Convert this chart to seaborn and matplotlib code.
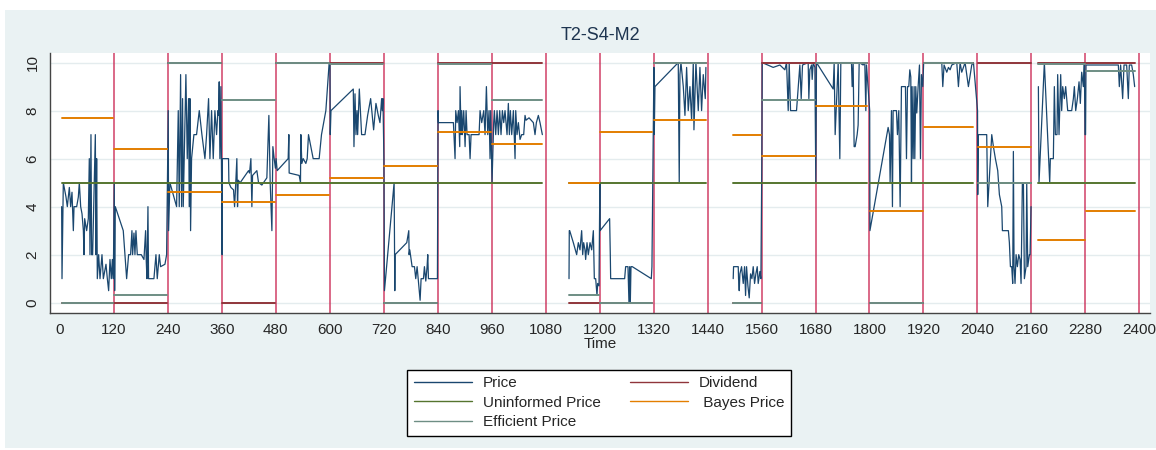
import numpy as np
import pandas as pd
import matplotlib
matplotlib.use("Agg")
import matplotlib.pyplot as plt
from matplotlib.lines import Line2D
from matplotlib.patches import Rectangle
import seaborn as sns

# one entry per 120-step period
period_start = [0, 120, 240, 360, 480, 600, 720, 840, 960, 1080,
                1200, 1320, 1440, 1560, 1680, 1800, 1920, 2040, 2160, 2280]
segment = [0, 0, 0, 0, 0, 0, 0, 0, 0, 1, 1, 1, 2, 2, 2, 2, 2, 2, 3, 3]
dividend = [0, 0, 10, 0, 10, 10, 0, 10, 10, 0, 0, 10, 0, 10, 10, 0, 10, 10, 10, 10]
uninformed = [5] * 20
bayes = [7.7, 6.4, 4.6, 4.2, 4.5, 5.2, 5.7, 7.1, 6.6, 5.0,
         7.1, 7.6, 7.0, 6.1, 8.2, 3.8, 7.3, 6.5, 2.6, 3.8]
efficient = [0, 0.33, 10, 8.44, 10, 9.93, 0, 9.93, 8.44, 0.33,
             0, 10, 0, 8.44, 10, 0, 10, 5, 9.93, 9.67]

# price: time offset inside each period, and value
price_offsets = [
    [3.7, 4.5, 7.4, 13.4, 16.3, 20.8, 23.7, 26.7, 29.7, 31.2, 37.1, 40.8, 43, 46, 49, 52, 53.4, 54.9, 59.3, 63,
     65.2, 66.7, 68.9, 70.4, 72.6, 78.6, 80.1, 81.5, 83, 86, 89, 93.4, 96.4, 102.3, 105.3, 108.2, 111.2, 114.1, 116.4, 118.6],
    [0.7, 1.5, 3, 20.7, 28.2, 32.6, 37, 40, 41.5, 44.5, 46.7, 48.9, 51.9, 60.8, 66.7, 70.4, 71.9, 73.4, 75.6, 77,
     88.9, 93.4, 96.3, 100.8, 103.7, 113.4, 117.1],
    [0.7, 1.5, 4.4, 19.3, 23, 25.2, 28.2, 30.4, 32.6, 34.1, 40, 43, 45.9, 47.4, 48.9, 50.4, 52.6, 57.8, 63.7, 69.7,
     75.6, 82.3, 86, 90.4, 93.4, 97.1, 100.8, 104.5, 108.2, 111.2, 112.6, 114.1, 115.6, 117.8],
    [0.5, 1, 14.8, 15.6, 20, 25.9, 28.2, 30.4, 33.3, 34.8, 36.3, 40.8, 59.3, 61.5, 64.5, 66.7, 68.2, 77.8, 81.5, 88.9,
     100, 104.5, 107.4, 111.2, 113.4, 116.3, 119],
    [0.5, 3, 27.4, 28.9, 29.6, 51.9, 54.8, 55.6, 57.8, 60.8, 66.7, 69.7, 72.6, 83, 96.3, 101.5, 111.2, 118.6],
    [0.4, 1, 2.6, 52.2, 53.7, 56, 58.2, 60.4, 61.9, 65.6, 70.7, 78.2, 84.1, 90.8, 97.4, 102.6, 107.8, 111.5, 115.2,
     116.7, 118.2],
    [0.3, 1.5, 23, 24.5, 25.2, 51.1, 55.6, 56.3, 57.8, 60.8, 63, 65.9, 68.2, 71.1, 74.1, 80.8, 83, 88.2, 90.4, 93.4,
     96.3, 97.8, 99.3, 119.3],
    [0.7, 1.5, 34.8, 38.5, 40, 43, 46, 48.9, 49.6, 51.9, 53.4, 54.8, 57.8, 60.8, 63, 65.2, 69.7, 71.9, 74.1, 91.9,
     94.1, 97.8, 102.3, 105.2, 108.2, 111.2, 114.1, 116.3, 117.8],
    [0.7, 4.4, 5.9, 8.9, 11.9, 14.8, 17.8, 20.7, 23.7, 26.7, 29.6, 34.1, 37, 39.3, 41.5, 44.5, 48.2, 51.9, 53.4, 56.3,
     59.3, 63, 66.7, 71.1, 74.1, 76.3, 83, 92.6, 96.3, 99.3, 103.7, 107.4, 112.6],
    [51.9, 52.5, 53.4, 61.5, 68.9, 72.6, 76.3, 80, 82.3, 84.5, 87.4, 88.9, 91.9, 94.8, 98.6, 102.3, 106, 108.2, 111.2,
     114.1, 115.6, 118.6],
    [0.5, 1, 22.2, 23.7, 24.5, 55.6, 57.8, 63, 65.2, 66.7, 68.2, 69.7, 72.6, 114.9, 116.3],
    [0.7, 1.5, 3, 54.8, 57, 58.5, 60.8, 66, 69.7, 73.4, 77, 80.8, 84.5, 88.2, 89.7, 94.1, 99.3, 103, 106.7, 110.4,
     114.9, 116.3],
    [57, 57.8, 68.2, 68.9, 70.4, 71.9, 75.6, 79.3, 82.3, 84.5, 86.7, 89.7, 92.6, 95.6, 98.6, 101.5, 104.5, 107.4,
     110.4, 112.6, 116.3, 118.6],
    [0.7, 1.5, 25.9, 40.8, 51.9, 55.6, 59.3, 61.5, 64.5, 77.8, 85.2, 88.2, 91.1, 103.7, 105.2, 107.4, 111.2, 112.6,
     114.9, 118.6],
    [0.7, 2.2, 39.3, 41.5, 43.7, 50.4, 54.1, 56.3, 68.9, 80, 81.5, 83.7, 85.9, 88.2, 92.6, 94.8, 97.1, 105.9, 109.6,
     111.9, 113.4],
    [0.5, 1, 41.5, 44.5, 45.9, 48.9, 51.1, 52.6, 60, 62.2, 65.2, 68.2, 71.1, 74.1, 80, 82.3, 84.5, 87.4, 89.7, 91.9,
     93.4, 94.8, 97.1, 99.3, 100.8, 103, 105.2, 108.2, 111.2, 113.4, 115.6, 118.6],
    [0.5, 40.8, 43, 45.9, 51.9, 55.6, 59.3, 63, 74.1, 77.8, 81.5, 85.2, 92.6, 100, 107.4, 111.2],
    [0.3, 0.7, 2.2, 20.7, 23, 31.9, 35.6, 40, 45.2, 48.9, 54.1, 55.6, 68.9, 71.1, 73.4, 76.3, 78.5, 80, 81.5, 83.7,
     86, 88.9, 91.9, 94.8, 97.1, 100, 102.3, 104.5, 108.2, 109.7, 111.9, 115.6, 117.1, 119.3],
    [15.6, 17, 28.9, 40.8, 42.2, 48.9, 51.1, 53.4, 57, 58.5, 61.5, 65.2, 67.4, 69.7, 73.4, 76.3, 80.8, 89.7, 93.4,
     95.6, 98.6, 102.3, 106, 108.9, 111.9, 115.6, 117.8, 119.3],
    [0.5, 1.5, 73.4, 75.6, 78.5, 83, 86, 91.9, 95.6, 97.8, 103, 106.7, 109.7],
]
price_values = [
    [4, 1, 5, 4.4, 4, 4.8, 4, 4.6, 3, 4, 4, 4.4, 5, 4, 3.7, 3, 2, 3.5, 3, 3.5,
     6, 2, 7, 2, 2, 7, 2, 6, 1, 2, 1, 2, 1, 1.6, 1, 0.5, 1.8, 1, 1.8, 1],
    [5, 0.5, 4, 3, 1, 2, 2, 3, 2, 2.9, 2, 3, 2, 2, 1.8, 3, 1.7, 1, 4, 1,
     1, 2, 1, 2, 1.5, 1.6, 2],
    [8, 3, 5, 4, 8, 4, 9.5, 4, 8.5, 4, 9.5, 6, 8.5, 4, 8.5, 3, 6, 7, 7, 8,
     7, 6, 7, 8.5, 6, 8, 6, 8, 7, 8, 7.8, 9.2, 6, 9],
    [2, 6, 6, 5, 4.8, 4.7, 4, 4.8, 6, 4, 5.1, 5, 5.5, 5.4, 6, 4, 5.3, 5.5, 5, 4.9,
     5.2, 7.8, 5, 3, 6.5, 6, 5.6],
    [6, 5.5, 6, 7, 5.4, 5.3, 5, 7, 5.8, 6, 5.8, 6, 7, 6, 6, 7, 8, 10],
    [10, 7, 8, 8.9, 6.5, 8.7, 7, 8, 7, 8.9, 7, 7, 7.8, 8.5, 7.2, 8.3, 7.8, 7.5, 8.5, 8, 8.5],
    [6, 0.5, 5, 0.5, 2, 2.5, 3, 2, 2.2, 1.8, 1.5, 1.5, 1.5, 1, 1.5, 0.1, 1, 1, 1.5, 0.9,
     1.5, 2, 1, 1],
    [8, 7.5, 7.5, 6, 8, 7.5, 8, 6.5, 9, 7, 8, 7, 8, 6.5, 8, 7, 7, 6, 7, 7,
     8, 7.5, 8, 7, 9, 7, 8, 6, 8],
    [5, 7.5, 8, 7, 8, 7, 8, 7, 8, 7.5, 8, 7, 8.3, 7, 8, 7, 8, 6, 8, 7,
     7.5, 6.8, 7, 7, 7.8, 7.6, 7.7, 7.5, 7, 7.5, 7.8, 7.5, 7],
    [1, 3, 3, 2.5, 2, 2.5, 2.2, 3, 2, 2.5, 2.2, 1.8, 2.5, 2, 2.5, 2.2, 3, 1, 1, 0.3,
     0.8, 0.7],
    [5, 3, 3.5, 2, 1, 1, 1.5, 1.5, 0, 1.5, 0, 1.5, 1.5, 1, 1.5],
    [9.8, 7, 9, 10, 5, 9.5, 10, 9, 7.8, 9.8, 8, 9, 7.6, 10, 7.2, 10, 8, 9.8, 8, 9.5,
     8.5, 9.8],
    [1, 1.5, 1.5, 1, 0.5, 1.2, 1.5, 0.8, 1.5, 0.3, 1.5, 0.7, 0.2, 1.2, 1, 1.5, 0.8, 1.2,
     1.5, 0.8, 1.3, 1],
    [6, 10, 9.8, 9.9, 9.7, 10, 8, 10, 8, 8, 9.9, 8.5, 9.9, 10, 8.5, 9.7, 9.9, 9.3, 10, 9.8],
    [5, 10, 8.9, 10, 7, 10, 6, 10, 10, 10, 9, 10, 6.5, 6.5, 7, 7.4, 10, 9.9, 10, 8, 9.9],
    [8, 3, 7.3, 7, 5, 8, 4, 8, 8, 7, 8, 4, 9, 9, 9, 6, 9, 9, 9.7, 9.4,
     5, 9, 6, 9, 6, 9, 7.9, 9, 9.9, 6, 9.5, 9],
    [10, 10, 9, 9.9, 9.6, 9.8, 9.7, 9.9, 10, 9, 10, 9.6, 10, 9, 9.9, 10],
    [8, 4.5, 7, 7, 4, 7, 6.5, 6, 5.5, 4.5, 4, 3, 3, 2.5, 1.5, 1.5, 0.8, 6.3, 1.5, 0.8,
     2, 1.5, 2, 1.8, 0.8, 5, 5, 1, 1.5, 5, 1.5, 2, 2, 4],
    [9, 5, 10, 5, 6, 6, 9, 7, 7, 9.5, 7, 9.5, 8, 9, 8.5, 9, 8, 8, 8.5, 9,
     8, 8.5, 9.2, 8.3, 9.6, 9, 10, 7],
    [7, 9.9, 9.9, 9, 9.9, 8.5, 9.9, 9.9, 8.5, 9.9, 9.9, 9.5, 9],
]

x_ticks = list(range(0, 2401, 120))
y_ticks = [0, 2, 4, 6, 8, 10]

# long tables for seaborn
rows = []
for p in range(len(period_start)):
    for off, val in zip(price_offsets[p], price_values[p]):
        rows.append({"t": period_start[p] + off, "v": val, "seg": segment[p]})
price_df = pd.DataFrame(rows)


def level_table(levels):
    out = []
    for p in range(len(period_start)):
        t0 = period_start[p] + price_offsets[p][0]
        t1 = period_start[p] + price_offsets[p][-1]
        out.append({"t": t0, "v": levels[p], "period": p})
        out.append({"t": t1, "v": levels[p], "period": p})
    return pd.DataFrame(out)


sns.set_style("white")
plt.rcParams["font.family"] = ["Liberation Sans", "DejaVu Sans"]

fig = plt.figure(figsize=(11.56, 4.5), dpi=100)
fig.patch.set_facecolor("white")
fig.patches.append(Rectangle((5 / 1156, 2 / 450), 1 - 5 / 1156, 438 / 450,
                             transform=fig.transFigure, facecolor="#eaf2f3",
                             edgecolor="none", zorder=-1))
ax = fig.add_axes([50 / 1156, 1 - 313 / 450, 1100 / 1156, 260 / 450])
ax.set_facecolor("white")

for y in y_ticks:
    ax.axhline(y, color="#e4ecee", lw=1, zorder=0)
for x in x_ticks[1:]:
    ax.axvline(x, color="#c81f4c", lw=1.1, alpha=0.85, zorder=1)

c_price = "#1a476f"
c_div = "#90353b"
c_unf = "#55752f"
c_bay = "#e37e00"
c_eff = "#6e8e84"

sns.lineplot(data=price_df, x="t", y="v", units="seg", estimator=None, sort=False,
             color=c_price, lw=0.9, ax=ax, legend=False, zorder=2)
for levels, col in [(dividend, c_div), (uninformed, c_unf), (bayes, c_bay), (efficient, c_eff)]:
    sns.lineplot(data=level_table(levels), x="t", y="v", units="period", estimator=None,
                 sort=False, color=col, lw=1.4, ax=ax, legend=False, zorder=3)

ax.set_xlim(-22.2, 2423.8)
ax.set_ylim(-0.43, 10.40)
ax.set_xticks(x_ticks)
ax.set_yticks(y_ticks)
ax.tick_params(axis="both", direction="out", length=4.5, width=1, color="#333333",
               labelsize=11, pad=3)
plt.setp(ax.get_yticklabels(), rotation=90, va="center")
for s in ["top", "right"]:
    ax.spines[s].set_visible(False)
for s in ["left", "bottom"]:
    ax.spines[s].set_color("#444444")
    ax.spines[s].set_linewidth(1)
ax.set_xlabel("Time", fontsize=11, labelpad=0)
ax.set_ylabel("")

fig.text(600 / 1156, 1 - 36 / 450, "T2-S4-M2", ha="center", va="center",
         fontsize=13, color="#1e3550")

handles = [Line2D([], [], color=c_price, lw=1), Line2D([], [], color=c_unf, lw=1),
           Line2D([], [], color=c_eff, lw=1), Line2D([], [], color=c_div, lw=1),
           Line2D([], [], color=c_bay, lw=1)]
labels = ["Price", "Uninformed Price", "Efficient Price", "Dividend", " Bayes Price"]
leg = fig.legend(handles, labels, ncol=2, loc="lower left",
                 bbox_to_anchor=(407 / 1156, 14 / 450, 384 / 1156, 74 / 450),
                 mode="expand", fontsize=11, frameon=True, fancybox=False,
                 framealpha=1, facecolor="white",
                 handlelength=3.8, handletextpad=0.7, borderpad=0.45,
                 labelspacing=0.35, columnspacing=1.2, borderaxespad=0)
leg.get_frame().set_edgecolor("black")
leg.get_frame().set_linewidth(1)

fig.savefig("out.png", dpi=100, facecolor=fig.get_facecolor())
